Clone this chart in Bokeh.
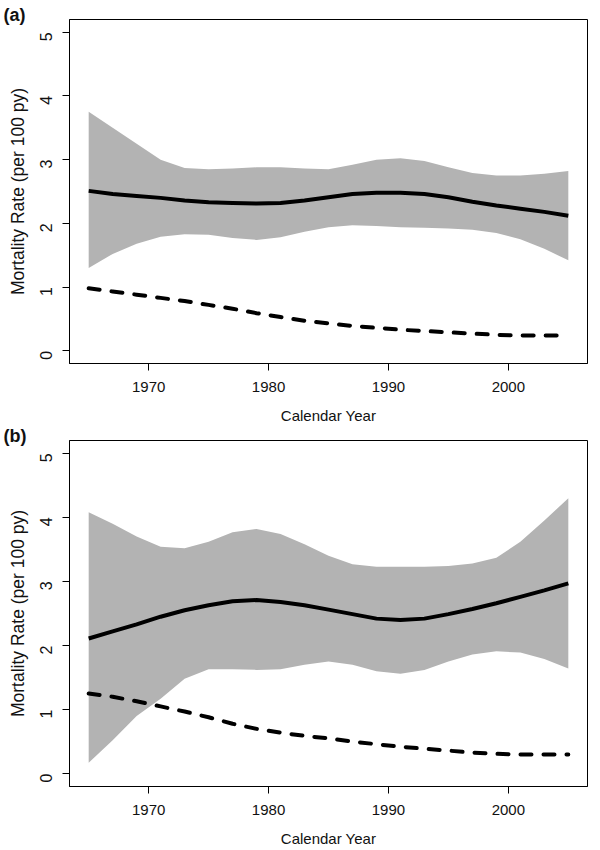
import math
from bokeh.plotting import figure
from bokeh.layouts import column
from bokeh.models import Range1d, FixedTicker, Title
from bokeh.embed import file_html
from bokeh.resources import INLINE

years = [1965, 1967, 1969, 1971, 1973, 1975, 1977, 1979, 1981, 1983, 1985,
         1987, 1989, 1991, 1993, 1995, 1997, 1999, 2001, 2003, 2005]

# Panel (a)
a_upper = [3.75, 3.50, 3.25, 3.00, 2.87, 2.85, 2.86, 2.88, 2.88, 2.86, 2.85,
           2.92, 3.00, 3.02, 2.98, 2.88, 2.79, 2.75, 2.75, 2.78, 2.82]
a_lower = [1.30, 1.52, 1.68, 1.79, 1.83, 1.82, 1.77, 1.74, 1.78, 1.87, 1.94,
           1.97, 1.96, 1.94, 1.93, 1.92, 1.90, 1.85, 1.75, 1.60, 1.42]
a_solid = [2.51, 2.46, 2.43, 2.40, 2.36, 2.33, 2.32, 2.31, 2.32, 2.36, 2.41,
           2.46, 2.48, 2.48, 2.46, 2.41, 2.34, 2.28, 2.23, 2.18, 2.12]
a_dashed = [0.98, 0.93, 0.88, 0.83, 0.78, 0.72, 0.66, 0.59, 0.53, 0.47, 0.43,
            0.39, 0.36, 0.33, 0.31, 0.29, 0.27, 0.25, 0.24, 0.24, 0.24]

# Panel (b)
b_upper = [4.08, 3.90, 3.70, 3.54, 3.52, 3.62, 3.77, 3.82, 3.74, 3.58, 3.40,
           3.27, 3.23, 3.23, 3.23, 3.24, 3.28, 3.37, 3.62, 3.95, 4.30]
b_lower = [0.17, 0.52, 0.90, 1.17, 1.48, 1.63, 1.63, 1.62, 1.63, 1.70, 1.75,
           1.70, 1.60, 1.56, 1.62, 1.75, 1.86, 1.91, 1.89, 1.79, 1.64]
b_solid = [2.11, 2.22, 2.33, 2.45, 2.55, 2.63, 2.69, 2.71, 2.68, 2.63, 2.56,
           2.49, 2.42, 2.40, 2.42, 2.49, 2.57, 2.66, 2.76, 2.86, 2.97]
b_dashed = [1.25, 1.20, 1.13, 1.05, 0.97, 0.88, 0.78, 0.70, 0.64, 0.59, 0.55,
            0.50, 0.46, 0.42, 0.39, 0.36, 0.33, 0.31, 0.30, 0.30, 0.30]

x_ticks = [1970, 1980, 1990, 2000]
y_ticks = [0, 1, 2, 3, 4, 5]
x_label = "Calendar Year"
y_label = "Mortality Rate (per 100 py)"
panel_tags = ["(a)", "(b)"]

FONT = "Liberation Sans"
BAND = "#b3b3b3"


def make_panel(tag, upper, lower, solid, dashed, height, border_top, border_bottom):
    p = figure(width=600, height=height, output_backend="svg", toolbar_location=None,
               x_range=Range1d(1963.4, 2006.6), y_range=Range1d(-0.2, 5.2),
               min_border_left=69, min_border_right=13,
               min_border_top=border_top, min_border_bottom=border_bottom)
    p.background_fill_color = "white"
    p.border_fill_color = "white"
    p.outline_line_color = "black"
    p.outline_line_width = 1
    p.xgrid.visible = False
    p.ygrid.visible = False

    p.varea(x=years, y1=lower, y2=upper, fill_color=BAND, fill_alpha=1.0)
    p.line(x=years, y=solid, line_color="black", line_width=4, line_join="round")
    p.line(x=years, y=dashed, line_color="black", line_width=4,
           line_dash="11 12", line_cap="round")

    for ax in (p.xaxis[0], p.yaxis[0]):
        ax.axis_line_color = "black"
        ax.axis_line_width = 1
        ax.major_tick_line_color = "black"
        ax.major_tick_line_width = 1
        ax.major_tick_in = 0
        ax.major_tick_out = 7
        ax.minor_tick_line_color = None
        ax.major_label_text_font = FONT
        ax.major_label_text_color = "#111111"
        ax.axis_label_text_font = FONT
        ax.axis_label_text_font_style = "normal"
        ax.axis_label_text_color = "#111111"

    p.xaxis.ticker = FixedTicker(ticks=x_ticks)
    p.xaxis.major_label_text_font_size = "15px"
    p.xaxis.major_label_standoff = 11
    p.xaxis.axis_label = x_label
    p.xaxis.axis_label_text_font_size = "15px"
    p.xaxis.axis_label_standoff = 12

    p.yaxis.ticker = FixedTicker(ticks=y_ticks)
    p.yaxis.major_label_orientation = math.pi / 2
    p.yaxis.major_label_text_font_size = "16px"
    p.yaxis.major_label_standoff = 16
    p.yaxis.axis_label = y_label
    p.yaxis.axis_label_text_font_size = "17.5px"
    p.yaxis.axis_label_standoff = 4

    p.add_layout(Title(text=tag, align="left", offset=-66, standoff=-10,
                       text_font=FONT, text_font_style="bold", text_font_size="18px",
                       text_color="#111111"), "above")
    return p


pa = make_panel(panel_tags[0], a_upper, a_lower, a_solid, a_dashed, 427, 19, 64)
pb = make_panel(panel_tags[1], b_upper, b_lower, b_solid, b_dashed, 423, 13, 64)

layout = column(pa, pb, spacing=0)
open("out.html", "w").write(file_html(layout, INLINE))
